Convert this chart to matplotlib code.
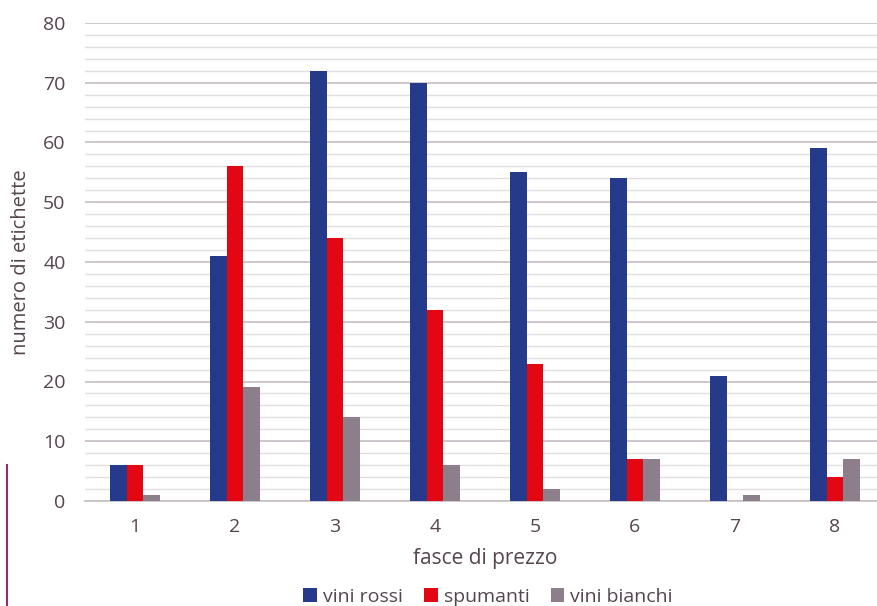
import numpy as np
import matplotlib.pyplot as plt
from matplotlib.lines import Line2D

plt.rcParams['font.family'] = ['Open Sans', 'DejaVu Sans']

fasce = ['1', '2', '3', '4', '5', '6', '7', '8']
vini_rossi = [6, 41, 72, 70, 55, 54, 21, 59]
spumanti = [6, 56, 44, 32, 23, 7, 0, 4]
vini_bianchi = [1, 19, 14, 6, 2, 7, 1, 7]

col_rossi = '#263A8C'
col_spum = '#E30613'
col_bian = '#8C7F8B'
txt_col = '#54454F'

fig = plt.figure(figsize=(8.77, 6.06), dpi=100)
ax = fig.add_axes([85/877, 1 - 501/606, 800/877, 478/606])

x = np.arange(len(fasce))
w = 1/6
ax.bar(x - w, vini_rossi, w, color=col_rossi, label='vini rossi', zorder=3)
ax.bar(x, spumanti, w, color=col_spum, label='spumanti', zorder=3)
ax.bar(x + w, vini_bianchi, w, color=col_bian, label='vini bianchi', zorder=3)

ax.set_xlim(-0.5, len(fasce) - 0.5)
ax.set_ylim(0, 80)
ax.set_yticks(np.arange(0, 81, 10))
ax.set_yticks(np.arange(0, 81, 2), minor=True)
ax.yaxis.grid(True, which='major', color='#C9C2C8', lw=1.3, zorder=0)
ax.yaxis.grid(True, which='minor', color='#E2DEE2', lw=1.0, zorder=0)
ax.set_xticks(x)
ax.set_xticklabels(fasce)
ax.tick_params(axis='both', which='both', length=0, labelsize=14, colors=txt_col)
ax.tick_params(axis='y', pad=14)
ax.tick_params(axis='x', pad=12)
for s in ['top', 'right', 'left']:
    ax.spines[s].set_visible(False)
ax.spines['bottom'].set_color('#C9C2C8')
ax.spines['bottom'].set_linewidth(1.3)

ax.set_xlabel('fasce di prezzo', fontsize=15, color=txt_col, labelpad=9)
ax.set_ylabel('numero di etichette', fontsize=14.5, color=txt_col)
ax.yaxis.set_label_coords(-0.068, 0.5)

fig.legend(loc='center', bbox_to_anchor=(488/877, 1 - 597/606), ncol=3, frameon=False,
           fontsize=14, labelcolor=txt_col, handlelength=0.7, handleheight=0.7,
           handletextpad=0.3, columnspacing=1.1)

fig.add_artist(Line2D([7/877, 7/877], [0, 1 - 465/606], color='#8B2D6E', lw=1.5))

fig.savefig('out.png', dpi=100)
